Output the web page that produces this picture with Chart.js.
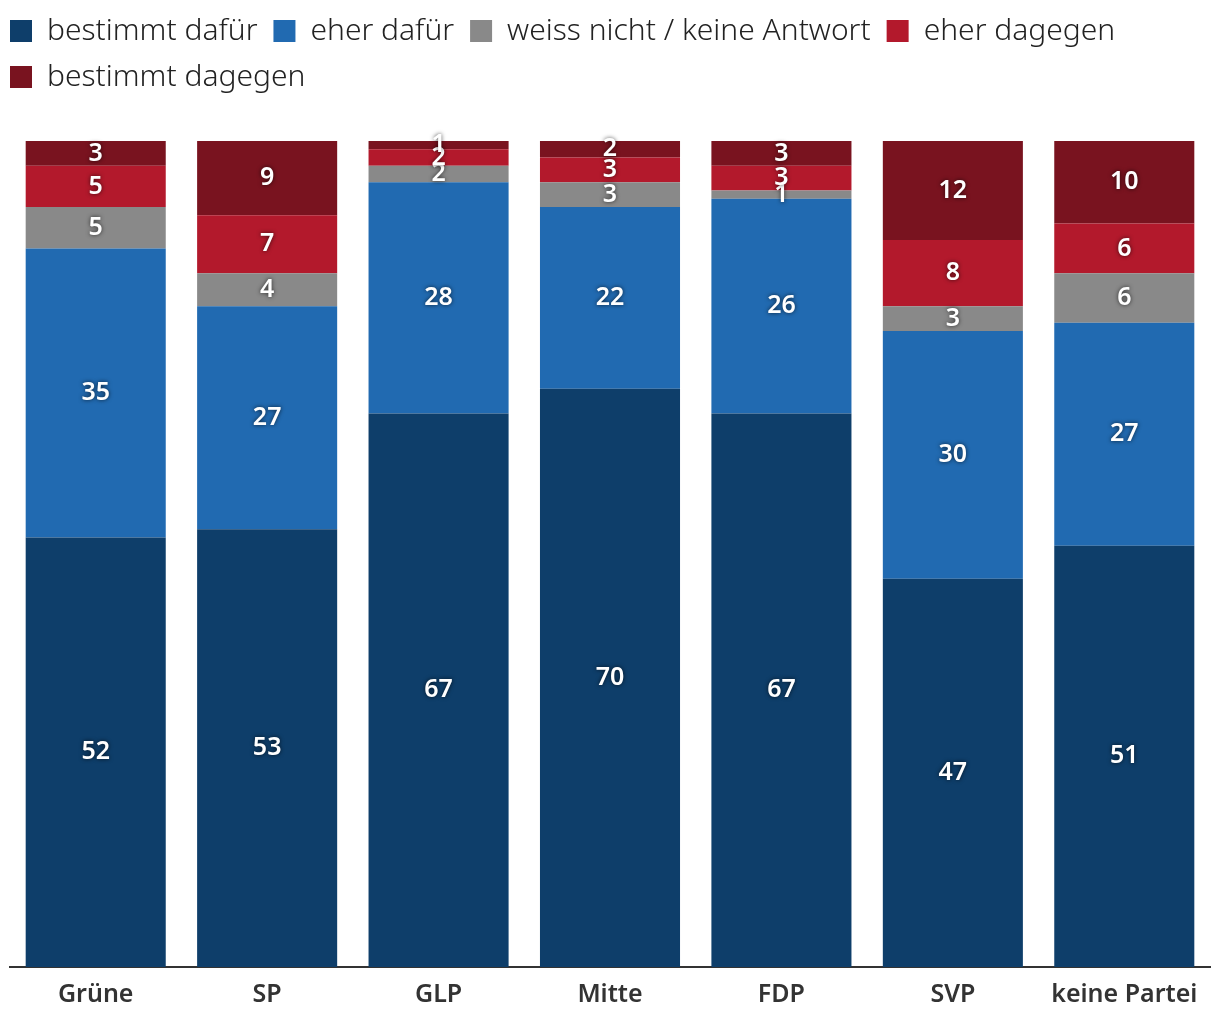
<!DOCTYPE html>
<html>
<head>
<meta charset="utf-8">
<script src="https://cdn.jsdelivr.net/npm/chart.js@4.4.1/dist/chart.umd.min.js"></script>
<style>
  html, body { margin: 0; padding: 0; background: #fff; }
  #wrap { width: 1220px; height: 1020px; position: relative; }
</style>
</head>
<body>
<div id="wrap"><canvas id="chart"></canvas></div>
<script>
// ---- data ----
const parties = ['Grüne', 'SP', 'GLP', 'Mitte', 'FDP', 'SVP', 'keine Partei'];
const bestimmtDafuer = [52, 53, 67, 70, 67, 47, 51];
const eherDafuer     = [35, 27, 28, 22, 26, 30, 27];
const weissNicht     = [5, 4, 2, 3, 1, 3, 6];
const eherDagegen    = [5, 7, 2, 3, 3, 8, 6];
const bestimmtDagegen = [3, 9, 1, 2, 3, 12, 10];

const seriesNames = ['bestimmt dafür', 'eher dafür', 'weiss nicht / keine Antwort', 'eher dagegen', 'bestimmt dagegen'];
const seriesColors = ['#0e3e6a', '#216ab1', '#898989', '#b3192c', '#79131f'];
const seriesData = [bestimmtDafuer, eherDafuer, weissNicht, eherDagegen, bestimmtDagegen];

const FONT = '"Noto Sans", sans-serif';
const LEGEND_PAD = 16;

// white value labels centred in each segment
const segmentLabels = {
  id: 'segmentLabels',
  afterDatasetsDraw(chart) {
    const ctx = chart.ctx;
    ctx.save();
    ctx.font = `600 25px ${FONT}`;
    ctx.fillStyle = '#fff';
    ctx.textAlign = 'center';
    ctx.textBaseline = 'middle';
    ctx.shadowColor = 'rgba(0,0,0,0.7)';
    ctx.shadowBlur = 4;
    chart.data.datasets.forEach((ds, i) => {
      chart.getDatasetMeta(i).data.forEach((bar, j) => {
        const mid = (bar.y + bar.base) / 2;
        ctx.fillText(ds.data[j], bar.x, mid);
      });
    });
    ctx.restore();
  }
};

// extra room under the legend, and pull it flush to the left edge
const legendGap = {
  id: 'legendGap',
  beforeInit(chart) {
    const fit = chart.legend.fit;
    chart.legend.fit = function () {
      fit.bind(chart.legend)();
      this.height += 39;
    };
  },
  afterLayout(chart) {
    chart.legend.left = 10 - LEGEND_PAD;
  }
};

new Chart(document.getElementById('chart'), {
  type: 'bar',
  data: {
    labels: parties,
    datasets: seriesData.map((d, i) => ({
      label: seriesNames[i],
      data: d,
      backgroundColor: seriesColors[i],
      borderWidth: 0,
      categoryPercentage: 1,
      barPercentage: 0.817
    }))
  },
  options: {
    responsive: true,
    maintainAspectRatio: false,
    animation: false,
    layout: { padding: { left: 10, right: 10, top: 0, bottom: 5 } },
    plugins: {
      legend: {
        position: 'top',
        align: 'start',
        labels: {
          boxWidth: 22, boxHeight: 22,
          padding: LEGEND_PAD,
          color: '#222',
          font: { family: FONT, size: 30, weight: 300 }
        }
      },
      tooltip: { enabled: false }
    },
    scales: {
      x: {
        stacked: true,
        grid: { display: false },
        border: { display: true, color: '#333', width: 2 },
        ticks: { color: '#333', padding: 5, font: { family: FONT, size: 25, weight: 600 } }
      },
      y: {
        stacked: true,
        min: 0, max: 100,
        display: false
      }
    }
  },
  plugins: [segmentLabels, legendGap]
});
</script>
</body>
</html>
